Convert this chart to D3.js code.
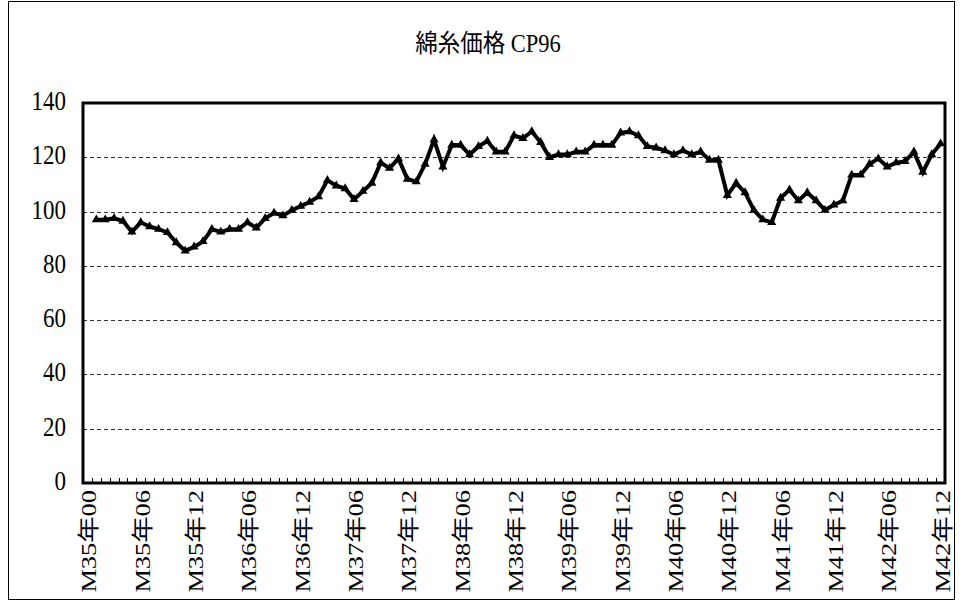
<!DOCTYPE html>
<html>
<head>
<meta charset="utf-8">
<script src="https://cdn.jsdelivr.net/npm/d3@7"></script>
<style>
  html, body { margin: 0; padding: 0; background: #fff; }
  svg { display: block; }
  text { font-family: 'Liberation Serif', 'Noto Sans CJK JP', serif; fill: #000; }
</style>
</head>
<body>
<script>
// monthly categories M35年00 .. M42年12 (M35年00 has no value)
const years = [35, 36, 37, 38, 39, 40, 41, 42]
const categories = ['M35年00']
years.forEach(y => {
  for (let m = 1; m <= 12; m++) categories.push(`M${y}年${String(m).padStart(2, '0')}`)
})

// cotton yarn price, M35年01 .. M42年12
const prices = [
  97, 97, 97.5, 96.5, 92.5, 96, 94.5, 93.5, 92.3, 88.6, 85.5, 87,
  89, 93.5, 92.5, 93.5, 93.5, 96, 94, 97.5, 99.5, 98.5, 100.5, 102,
  103.5, 105.5, 111.5, 109.5, 108.5, 104.5, 107.5, 110.5, 118, 116, 119.5, 112,
  111, 117.5, 126.5, 116.5, 124.5, 124.5, 121, 124, 126, 122, 122, 128,
  127, 129.5, 125.5, 120, 121, 121, 122, 122, 124.5, 124.5, 124.5, 129,
  129.5, 128, 124, 123.5, 122.5, 121, 122.5, 121, 122, 119, 119, 106,
  110.5, 107, 100.5, 97, 96, 105, 108, 104, 107, 104, 100.5, 102.5,
  104, 113.5, 113.5, 117.5, 119.5, 116.5, 118, 118.5, 122, 114.5, 121, 125
]
const yTicks = [0, 20, 40, 60, 80, 100, 120, 140]
const title = '綿糸価格 CP96'

const data = prices.map((v, i) => ({cat: categories[i + 1], value: v}))

const W = 963, H = 608
const margin = {top: 103, right: 18, bottom: 125, left: 83}
const width = W - margin.left - margin.right,
  height = H - margin.top - margin.bottom

const svg = d3.select('body').append('svg')
  .attr('width', W)
  .attr('height', H)

// chart area border
svg.append('rect')
  .attr('x', 8.5).attr('y', 1.5)
  .attr('width', 946).attr('height', 598)
  .attr('fill', 'none')
  .attr('stroke', '#000')
  .attr('stroke-width', 1)

svg.append('text')
  .attr('transform', 'translate(488, 52) scale(1, 1.1)')
  .attr('text-anchor', 'middle')
  .style('font-size', '22.5px')
  .text(title)

const g = svg.append('g')
  .attr('transform', `translate(${margin.left}, ${margin.top})`)

const x = d3.scaleBand()
  .domain(categories)
  .range([0, width])

const y = d3.scaleLinear()
  .domain([0, 140])
  .range([height, 0])

// dashed gridlines
g.append('g')
  .selectAll('line')
  .data(yTicks.filter(t => t > 0 && t < 140))
  .enter().append('line')
  .attr('x1', 0).attr('x2', width)
  .attr('y1', d => Math.round(y(d)) + 0.5)
  .attr('y2', d => Math.round(y(d)) + 0.5)
  .attr('stroke', '#333')
  .attr('stroke-width', 1)
  .attr('stroke-dasharray', '4,3')

// y axis labels
g.append('g')
  .selectAll('text')
  .data(yTicks)
  .enter().append('text')
  .attr('transform', d => `translate(-17, ${y(d) + 7}) scale(1, 1.15)`)
  .attr('text-anchor', 'end')
  .style('font-size', '23px')
  .text(d => d)

// x axis: minor ticks between categories, inside
g.append('g')
  .selectAll('line')
  .data(categories.slice(1))
  .enter().append('line')
  .attr('x1', d => Math.round(x(d)) + 0.5)
  .attr('x2', d => Math.round(x(d)) + 0.5)
  .attr('y1', height)
  .attr('y2', height - 5)
  .attr('stroke', '#000')
  .attr('stroke-width', 1)

const labelCats = categories.filter((c, i) => i % 6 === 0)
g.append('g')
  .selectAll('text')
  .data(labelCats)
  .enter().append('text')
  .attr('transform', d => `translate(${x(d) + x.bandwidth() / 2 + 9}, ${height + 7}) rotate(-90) scale(1.2, 1)`)
  .attr('text-anchor', 'end')
  .style('font-size', '22px')
  .text(d => d)

// plot frame
g.append('rect')
  .attr('x', 0).attr('y', 0)
  .attr('width', width).attr('height', height)
  .attr('fill', 'none')
  .attr('stroke', '#000')
  .attr('stroke-width', 3)

// series
const line = d3.line()
  .x(d => x(d.cat) + x.bandwidth() / 2)
  .y(d => y(d.value))

g.append('path')
  .datum(data)
  .attr('d', line)
  .attr('fill', 'none')
  .attr('stroke', '#000')
  .attr('stroke-width', 4)
  .attr('stroke-linejoin', 'miter')

g.append('g')
  .selectAll('path')
  .data(data)
  .enter().append('path')
  .attr('d', d3.symbol(d3.symbolTriangle, 36))
  .attr('transform', d => `translate(${x(d.cat) + x.bandwidth() / 2}, ${y(d.value)})`)
  .attr('fill', '#000')
</script>
</body>
</html>
